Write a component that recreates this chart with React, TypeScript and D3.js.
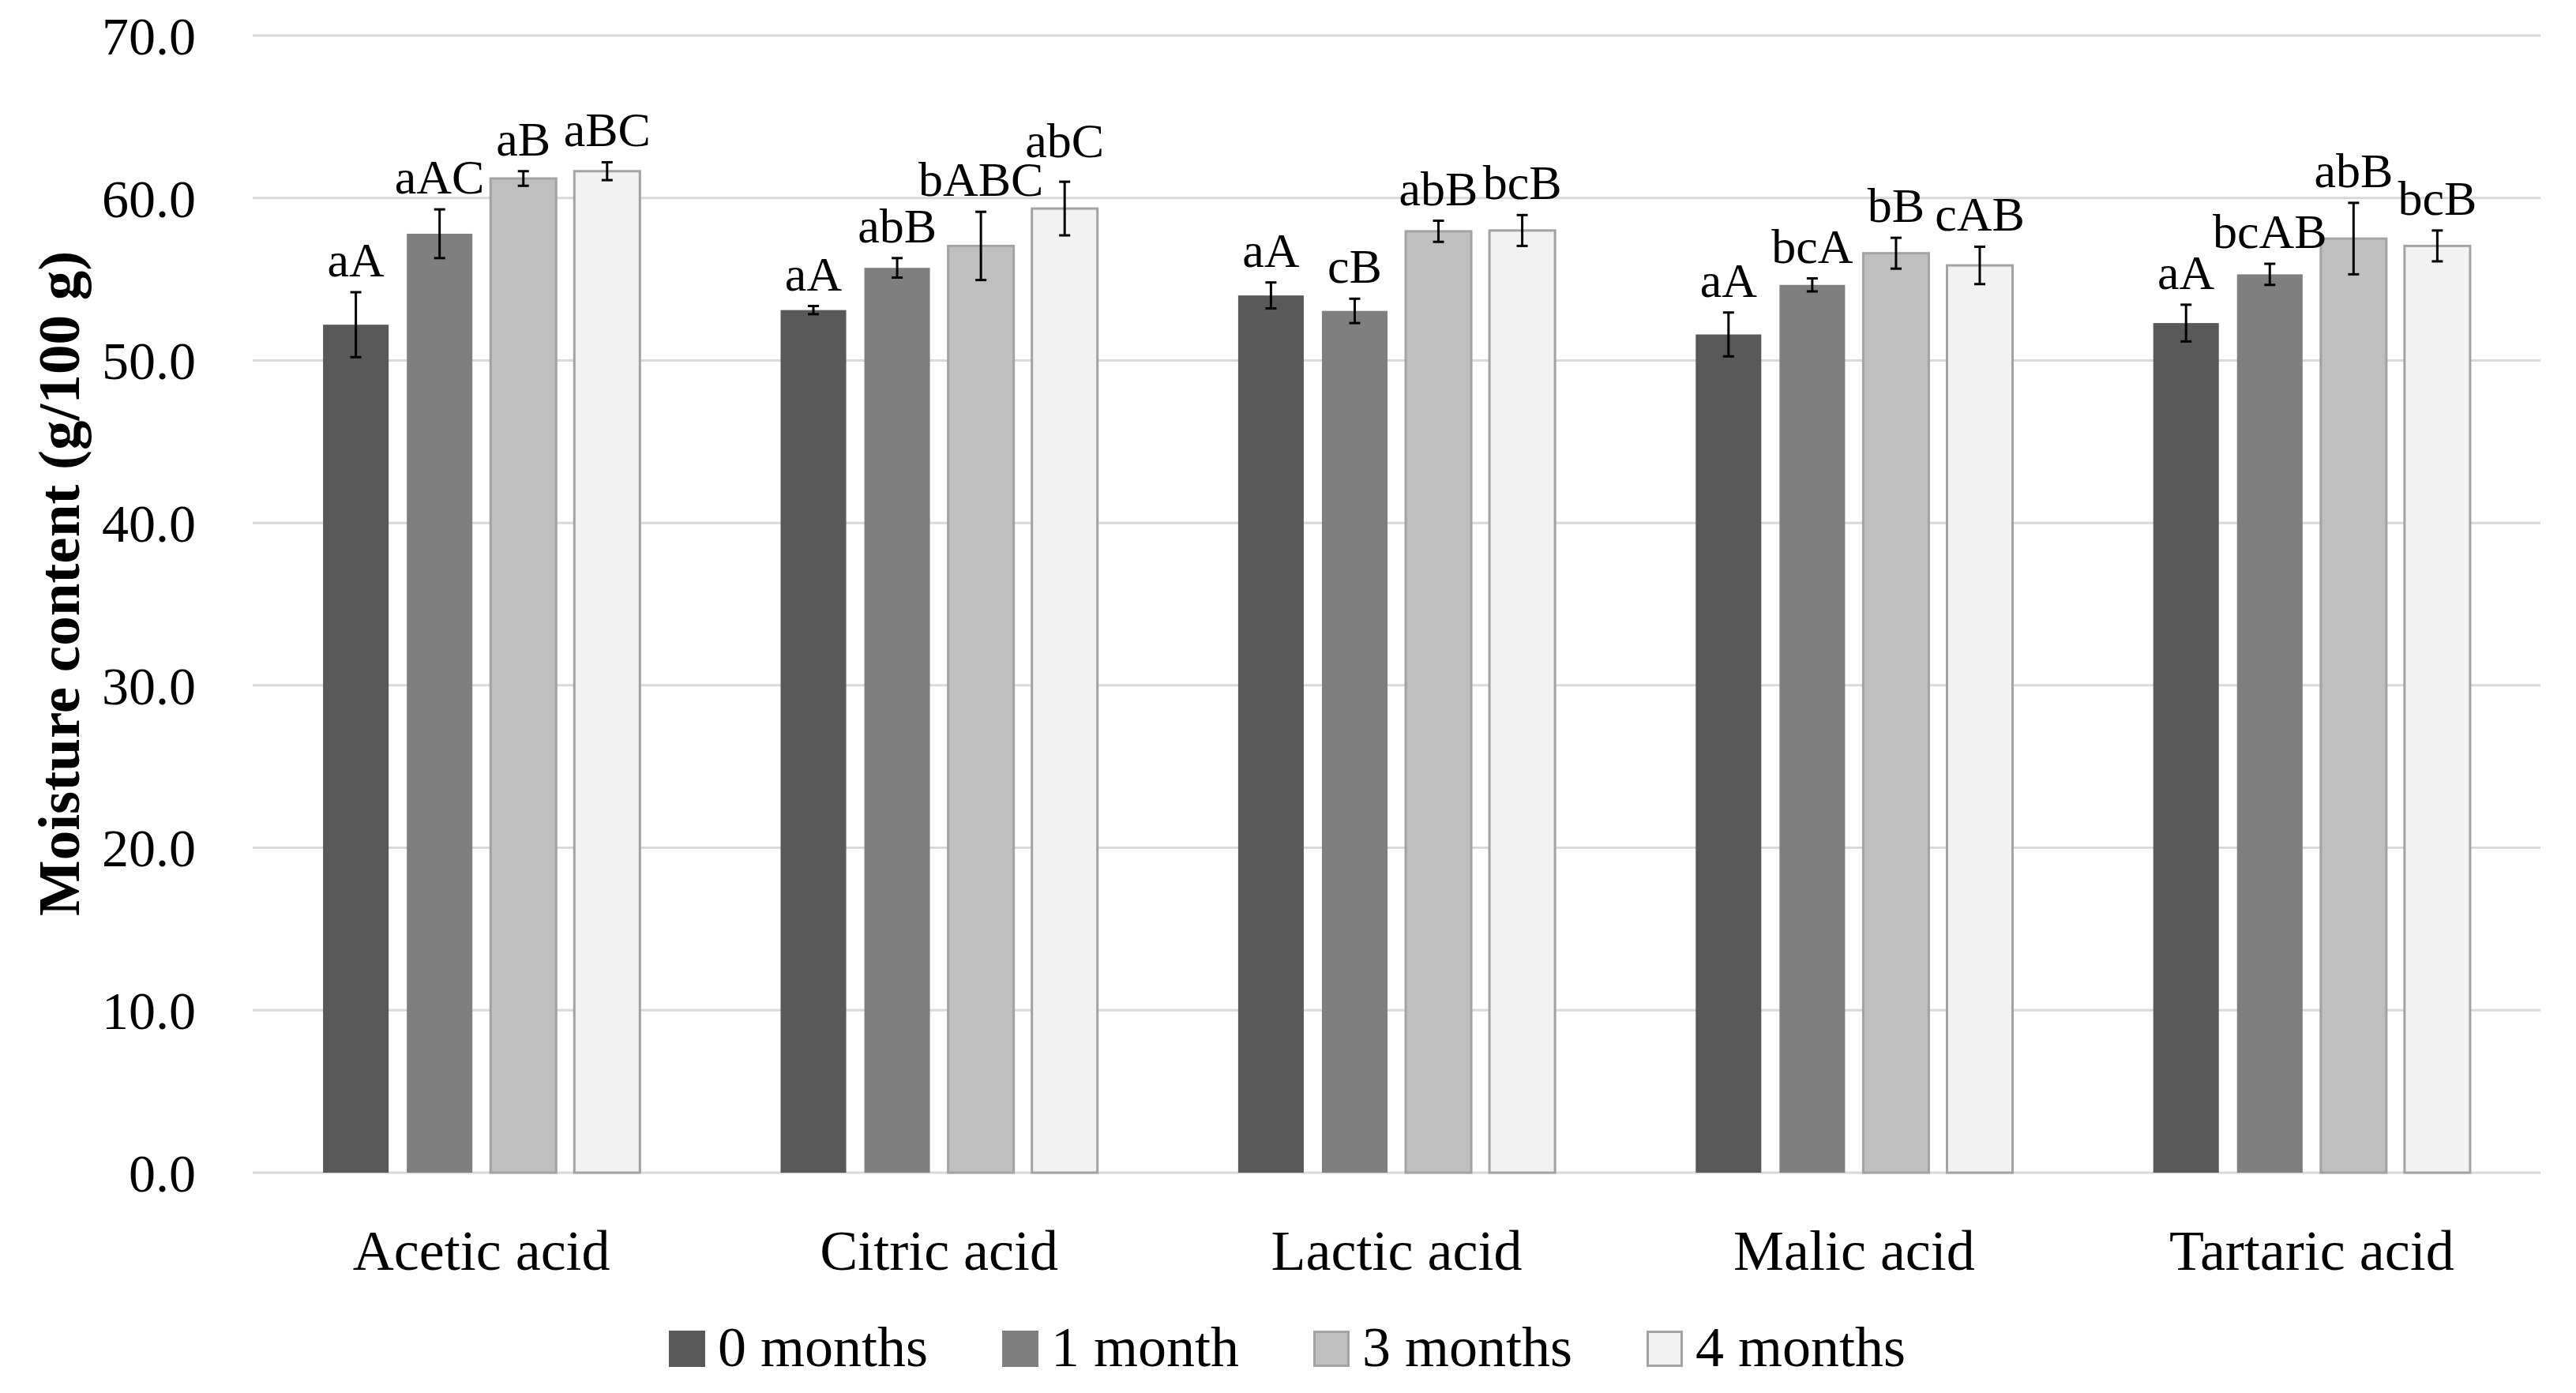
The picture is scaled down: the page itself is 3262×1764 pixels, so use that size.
import React, { useEffect, useRef } from 'react';
import * as d3 from 'd3';

const categories = ['Acetic acid', 'Citric acid', 'Lactic acid', 'Malic acid', 'Tartaric acid'];
const seriesNames = ['0 months', '1 month', '3 months', '4 months'];

const months0 = [52.2, 53.1, 54.0, 51.6, 52.3];
const month1 = [57.8, 55.7, 53.05, 54.65, 55.3];
const months3 = [61.2, 57.05, 57.95, 56.6, 57.5];
const months4 = [61.65, 59.35, 58.0, 55.85, 57.05];

const err0 = [2.0, 0.25, 0.8, 1.35, 1.13];
const err1 = [1.5, 0.6, 0.75, 0.4, 0.65];
const err3 = [0.45, 2.1, 0.65, 0.95, 2.2];
const err4 = [0.55, 1.65, 0.95, 1.15, 0.95];

const labels0 = ['aA', 'aA', 'aA', 'aA', 'aA'];
const labels1 = ['aAC', 'abB', 'cB', 'bcA', 'bcAB'];
const labels3 = ['aB', 'bABC', 'abB', 'bB', 'abB'];
const labels4 = ['aBC', 'abC', 'bcB', 'cAB', 'bcB'];

const yTicks = [0, 10, 20, 30, 40, 50, 60, 70];

const fills = ['#595959', '#7f7f7f', '#bfbfbf', '#f2f2f2'];
const strokes = ['none', 'none', '#a3a3a3', '#a3a3a3'];

const W = 3262;
const H = 1764;
const FONT = '"Liberation Serif", "Times New Roman", serif';
const LABEL_SIZE = 62;

const App: React.FC = () => {
    const svgRef = useRef<SVGSVGElement>(null);

    useEffect(() => {
        if (!svgRef.current) return;
        document.body.style.margin = '0';

        const svg = d3.select(svgRef.current);
        svg.selectAll('*').remove();

        const values = [months0, month1, months3, months4];
        const errors = [err0, err1, err3, err4];
        const labels = [labels0, labels1, labels3, labels4];

        const plot = { left: 320, right: 3217, top: 45, bottom: 1485 };

        const y = d3.scaleLinear().domain([0, 70]).range([plot.bottom, plot.top]);
        const x0 = d3.scaleBand<string>().domain(categories).range([plot.left, plot.right]).padding(0);
        const x1 = d3.scaleBand<string>()
            .domain(seriesNames)
            .range([0, x0.bandwidth()])
            .paddingInner(0.217)
            .paddingOuter(0.84);

        // gridlines
        svg.append('g')
            .selectAll('line')
            .data(yTicks)
            .join('line')
            .attr('x1', plot.left)
            .attr('x2', plot.right)
            .attr('y1', d => y(d))
            .attr('y2', d => y(d))
            .attr('stroke', '#d9d9d9')
            .attr('stroke-width', 3);

        // y tick labels
        svg.append('g')
            .selectAll('text')
            .data(yTicks)
            .join('text')
            .attr('x', 248)
            .attr('y', d => y(d))
            .attr('dy', '0.35em')
            .attr('text-anchor', 'end')
            .attr('font-family', FONT)
            .attr('font-size', 68)
            .attr('fill', '#000')
            .text(d => d3.format('.1f')(d));

        const rows = categories.flatMap((c, ci) =>
            seriesNames.map((s, si) => ({
                cat: c,
                ci,
                si,
                series: s,
                value: values[si][ci],
                err: errors[si][ci],
                label: labels[si][ci],
            }))
        );

        const cx = (d: any) => (x0(d.cat) as number) + (x1(d.series) as number) + x1.bandwidth() / 2;

        // bars
        svg.append('g')
            .selectAll('rect')
            .data(rows)
            .join('rect')
            .attr('x', d => (x0(d.cat) as number) + (x1(d.series) as number))
            .attr('y', d => y(d.value))
            .attr('width', x1.bandwidth())
            .attr('height', d => y(0) - y(d.value))
            .attr('fill', d => fills[d.si])
            .attr('stroke', d => strokes[d.si])
            .attr('stroke-width', 3);

        // error bars
        const eg = svg.append('g').attr('stroke', '#000').attr('stroke-width', 3);
        eg.selectAll('line.v')
            .data(rows)
            .join('line')
            .attr('class', 'v')
            .attr('x1', cx)
            .attr('x2', cx)
            .attr('y1', d => y(d.value + d.err))
            .attr('y2', d => y(d.value - d.err));
        eg.selectAll('line.t')
            .data(rows)
            .join('line')
            .attr('class', 't')
            .attr('x1', d => cx(d) - 7)
            .attr('x2', d => cx(d) + 7)
            .attr('y1', d => y(d.value + d.err))
            .attr('y2', d => y(d.value + d.err));
        eg.selectAll('line.b')
            .data(rows)
            .join('line')
            .attr('class', 'b')
            .attr('x1', d => cx(d) - 7)
            .attr('x2', d => cx(d) + 7)
            .attr('y1', d => y(d.value - d.err))
            .attr('y2', d => y(d.value - d.err));

        // letter labels
        const labelSel = svg.append('g')
            .selectAll('text')
            .data(rows)
            .join('text')
            .attr('x', cx)
            .attr('y', d => y(d.value + d.err) - 20)
            .attr('text-anchor', 'middle')
            .attr('font-family', FONT)
            .attr('font-size', LABEL_SIZE)
            .attr('fill', '#000')
            .text(d => d.label);

        // nudge a label up when it collides with its left neighbour (as in the original)
        const nodes = labelSel.nodes() as SVGTextElement[];
        const capH = LABEL_SIZE * 0.68;
        for (let i = 1; i < nodes.length; i++) {
            if (rows[i].ci !== rows[i - 1].ci) continue;
            const a = nodes[i - 1].getBBox();
            const b = nodes[i].getBBox();
            const aBase = +nodes[i - 1].getAttribute('y')!;
            const bBase = +nodes[i].getAttribute('y')!;
            const hOverlap = b.x < a.x + a.width - 2 && a.x < b.x + b.width - 2;
            const vOverlap = bBase > aBase - capH && aBase > bBase - capH;
            if (hOverlap && vOverlap) {
                nodes[i].setAttribute('y', String(aBase - capH - 7));
            }
        }

        // category labels
        svg.append('g')
            .selectAll('text')
            .data(categories)
            .join('text')
            .attr('x', d => (x0(d) as number) + x0.bandwidth() / 2)
            .attr('y', 1608)
            .attr('text-anchor', 'middle')
            .attr('font-family', FONT)
            .attr('font-size', 72)
            .attr('fill', '#000')
            .text(d => d);

        // y axis title
        svg.append('text')
            .attr('transform', `translate(100, ${739}) rotate(-90)`)
            .attr('text-anchor', 'middle')
            .attr('font-family', FONT)
            .attr('font-size', 75)
            .attr('font-weight', 'bold')
            .attr('fill', '#000')
            .text('Moisture content (g/100 g)');

        // legend
        const sw = 46;
        const textGap = 16;
        const itemGap = 94;
        const legend = svg.append('g');
        const items = legend.selectAll('g')
            .data(seriesNames)
            .join('g');
        items.append('rect')
            .attr('width', sw - 3)
            .attr('height', sw - 3)
            .attr('x', 1.5)
            .attr('y', 1.5)
            .attr('fill', (_, i) => fills[i])
            .attr('stroke', (_, i) => (strokes[i] === 'none' ? fills[i] : strokes[i]))
            .attr('stroke-width', 3);
        const texts = items.append('text')
            .attr('x', sw + textGap)
            .attr('y', 45)
            .attr('font-family', FONT)
            .attr('font-size', 72)
            .attr('fill', '#000')
            .text(d => d);

        const widths: number[] = [];
        texts.each(function () {
            widths.push((this as SVGTextElement).getComputedTextLength());
        });
        const itemW = widths.map(w => sw + textGap + w);
        const total = d3.sum(itemW) + itemGap * (itemW.length - 1);
        let xPos = 1630 - total / 2;
        items.attr('transform', (_, i) => {
            const t = `translate(${xPos}, 1685)`;
            xPos += itemW[i] + itemGap;
            return t;
        });
    }, []);

    return <svg ref={svgRef} width={W} height={H} style={{ display: 'block', background: '#fff' }} />;
};

export default App;
